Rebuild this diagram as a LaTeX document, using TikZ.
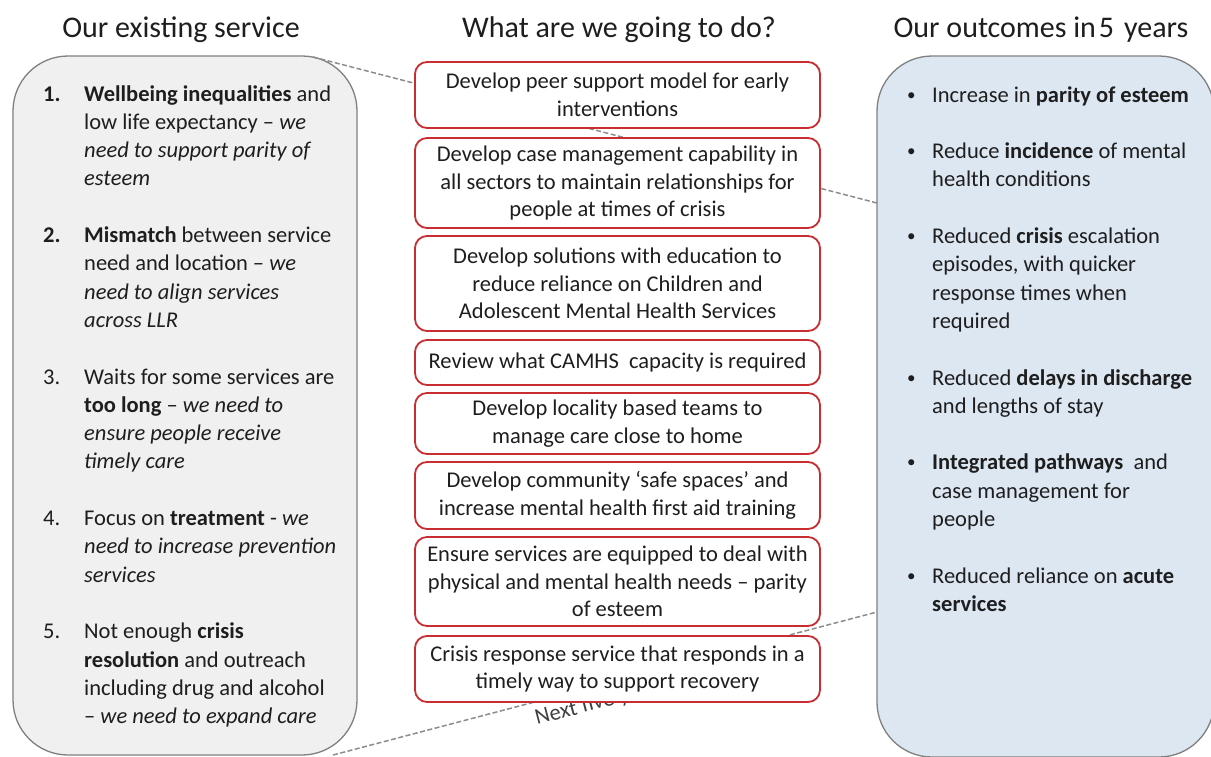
\documentclass[tikz,border=0pt]{standalone}
\usepackage{fontspec}
\setmainfont{Carlito}
\usetikzlibrary{calc}
\definecolor{boxred}{RGB}{200,45,50}
\definecolor{lgray}{RGB}{240,240,240}
\definecolor{lblue}{RGB}{220,231,242}
\definecolor{edgegray}{RGB}{128,128,128}
\definecolor{txt}{RGB}{30,30,30}
\definecolor{dashgray}{RGB}{140,140,140}
\begin{document}
\begin{tikzpicture}[x=1pt,y=-1pt,
  column/.style={draw=edgegray, line width=1.3pt, rounded corners=55pt, inner sep=0pt},
  action/.style={draw=boxred, line width=1.8pt, fill=white, rounded corners=12pt, minimum width=405pt, align=center, inner sep=0pt, text=txt, font=\fontsize{22.5}{27.5}\selectfont},
  title/.style={font=\fontsize{30}{36}\selectfont, text=txt, anchor=base, inner sep=0pt},
  bodytext/.style={font=\fontsize{22.5}{28}\selectfont, text=txt, anchor=base west, inner sep=0pt},
  bulletmark/.style={font=\fontsize{17}{20}\selectfont, text=txt, anchor=base west, inner sep=0pt},
  link/.style={draw=dashgray, line width=1.5pt, dash pattern=on 5pt off 2.5pt},
]
\clip (0,0) rectangle (1211,756);
\fill[white] (0,0) rectangle (1211,756);

% titles
\node[title] (t1) at (181,37) {Our existing service};
\node[title] (t2) at (619,37) {What are we going to do?};
\node[title] (t3) at (1041,37) {Our outcomes in\kern3pt 5\kern10pt years};

% column boxes
\node[column, fill=lgray, minimum width=344pt, minimum height=699pt] (lbox) at (185,405.5) {};
\node[column, fill=lblue, minimum width=337pt, minimum height=701pt] (rbox) at (1045.5,406.5) {};

% dashed funnel lines
\coordinate (a1) at (313,57);
\coordinate (a2) at (877,203);
\coordinate (b1) at (333,755);
\coordinate (b2) at (877,612);
\draw[link] (a1) -- (a2);
\draw[link] (b1) -- (b2);
\node[bodytext, rotate=14.7, text=black!75] (nfy) at (537,725) {Next five years};

% middle action boxes
\node[action, minimum height=66pt] (m1) at (617.5,95) {Develop peer support model for early\\interventions};
\node[action, minimum height=90pt] (m2) at (617.5,183) {Develop case management capability in\\all sectors to maintain relationships for\\people at times of crisis};
\node[action, minimum height=95pt] (m3) at (617.5,283.5) {Develop solutions with education to\\reduce reliance on Children and\\Adolescent Mental Health Services};
\node[action, minimum height=45pt] (m4) at (617.5,362.5) {Review what CAMHS\ \ capacity is required};
\node[action, minimum height=61pt] (m5) at (617.5,423.5) {Develop locality based teams to\\manage care close to home};
\node[action, minimum height=67pt] (m6) at (617.5,495.5) {Develop community ‘safe spaces’ and\\increase mental health first aid training};
\node[action, minimum height=89pt] (m7) at (617.5,581.5) {Ensure services are equipped to deal with\\physical and mental health needs – parity\\of esteem};
\node[action, minimum height=66pt] (m8) at (617.5,669) {Crisis response service that responds in a\\timely way to support recovery};

% left column numbers
\node[bodytext] (n1) at (43,101) {\textbf{1.}};
\node[bodytext] (n2) at (43,242.5) {\textbf{2.}};
\node[bodytext] (n3) at (43,384) {3.};
\node[bodytext] (n4) at (43,525.5) {4.};
\node[bodytext] (n5) at (43,638.7) {5.};

% left column lines
\foreach \k/\linetext [count=\i] in {
  0/{\textbf{Wellbeing inequalities} and},
  1/{low life expectancy – \textit{we}},
  2/{\textit{need to support parity of}},
  3/{\textit{esteem}},
  5/{\textbf{Mismatch} between service},
  6/{need and location – \textit{we}},
  7/{\textit{need to align services}},
  8/{\textit{across LLR}},
  10/{Waits for some services are},
  11/{\textbf{too long} – \textit{we need to}},
  12/{\textit{ensure people receive}},
  13/{\textit{timely care}},
  15/{Focus on \textbf{treatment} - \textit{we}},
  16/{\textit{need to increase prevention}},
  17/{\textit{services}},
  19/{Not enough \textbf{crisis}},
  20/{\textbf{resolution} and outreach},
  21/{including drug and alcohol},
  22/{– \textit{we need to expand care}}}
  \node[bodytext] (l\i) at (84,{101+28.3*\k}) {\linetext};

% right column bullets
\foreach \k [count=\i] in {0,2,5,10,13,17}
  \node[bulletmark] (b\i) at (907,{100+28.3*\k}) {•};

% right column lines
\foreach \k/\linetext [count=\i] in {
  0/{Increase in \textbf{parity of esteem}},
  2/{Reduce \textbf{incidence} of mental},
  3/{health conditions},
  5/{Reduced \textbf{crisis} escalation},
  6/{episodes, with quicker},
  7/{response times when},
  8/{required},
  10/{Reduced \textbf{delays in discharge}},
  11/{and lengths of stay},
  13/{\textbf{Integrated pathways}\ \ and},
  14/{case management for},
  15/{people},
  17/{Reduced reliance on \textbf{acute}},
  18/{\textbf{services}}}
  \node[bodytext] (r\i) at (932,{102+28.3*\k}) {\linetext};
\end{tikzpicture}
\end{document}
